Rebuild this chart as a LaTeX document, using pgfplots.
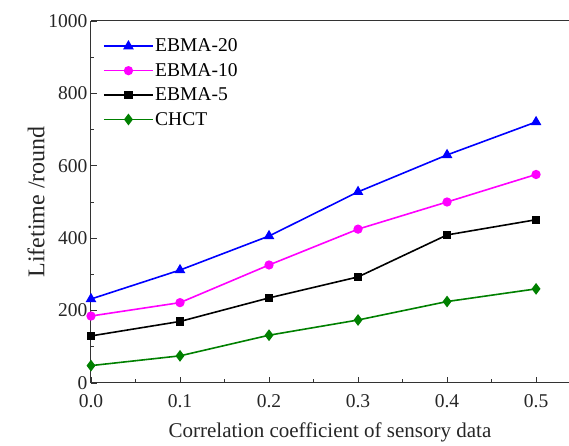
\documentclass[border=0pt]{standalone}
\usepackage{fontspec}
\setmainfont{Liberation Serif}
\usepackage{pgfplots}
\pgfplotsset{compat=1.18}
\definecolor{cgreen}{RGB}{0,128,0}
\definecolor{cmag}{RGB}{255,0,255}
\definecolor{cblue}{RGB}{0,0,255}
\begin{document}
\begin{tikzpicture}
\begin{axis}[
  name=ax,
  scale only axis,
  width=478bp, height=362bp,
  xmin=0, xmax=0.537, ymin=0, ymax=1000,
  separate axis lines,
  axis x line*=box,
  axis y line*=left,
  axis line style={line width=1bp, color=black!80},
  xtick={0,0.1,0.2,0.3,0.4,0.5},
  xticklabels={0.0,0.1,0.2,0.3,0.4,0.5},
  minor xtick={0.05,0.15,0.25,0.35,0.45},
  ytick={0,200,400,600,800,1000},
  minor ytick={100,300,500,700,900},
  xtick pos=bottom, ytick pos=left,
  tick align=inside,
  major tick length=6bp, minor tick length=3.5bp,
  tick style={line width=0.9bp, black!80},
  /pgf/number format/assume math mode=true,
  /pgf/number format/1000 sep={},
  tick label style={font=\fontsize{19.5bp}{22bp}\selectfont, text=black!85},
  xticklabel style={yshift=-8bp},
  xlabel={Correlation coefficient of sensory data},
  ylabel={Lifetime /round},
  xlabel style={font=\fontsize{21bp}{24bp}\selectfont, text=black!85, yshift=-8bp},
  ylabel style={font=\fontsize{24bp}{27bp}\selectfont, text=black!85, yshift=-3bp},
  legend style={draw=none, fill=none, at={(0.025,0.955)}, anchor=north west,
    font=\fontsize{19.5bp}{22bp}\selectfont, row sep=7bp, inner sep=0pt,
    nodes={inner sep=1.5bp}},
  legend cell align=left,
  legend image code/.code={%
    \draw[mark repeat=2,mark phase=2] plot coordinates {(0bp,0bp) (24.5bp,0bp) (49bp,0bp)};},
  every axis plot/.append style={line width=1.6bp},
]
\addplot[color=cblue, mark=triangle*, mark size=4.6bp, mark options={solid}] coordinates {
  (0,232) (0.1,312) (0.2,406) (0.3,528) (0.4,630) (0.5,721)};
\addlegendentry{EBMA-20}
\addplot[color=cmag, mark=*, mark size=3.8bp] coordinates {
  (0,185) (0.1,222) (0.2,326) (0.3,425) (0.4,500) (0.5,576)};
\addlegendentry{EBMA-10}
\addplot[color=black, mark=square*, mark size=3.3bp] coordinates {
  (0,130) (0.1,170) (0.2,235) (0.3,293) (0.4,409) (0.5,451)};
\addlegendentry{EBMA-5}
\addplot[color=cgreen, mark=diamond*, mark size=4.6bp] coordinates {
  (0,48) (0.1,75) (0.2,132) (0.3,174) (0.4,225) (0.5,260)};
\addlegendentry{CHCT}
\end{axis}
\pgfresetboundingbox
\path ([shift={(-91bp,-63bp)}]ax.south west) rectangle ([shift={(0bp,21bp)}]ax.north east);
\end{tikzpicture}
\end{document}
